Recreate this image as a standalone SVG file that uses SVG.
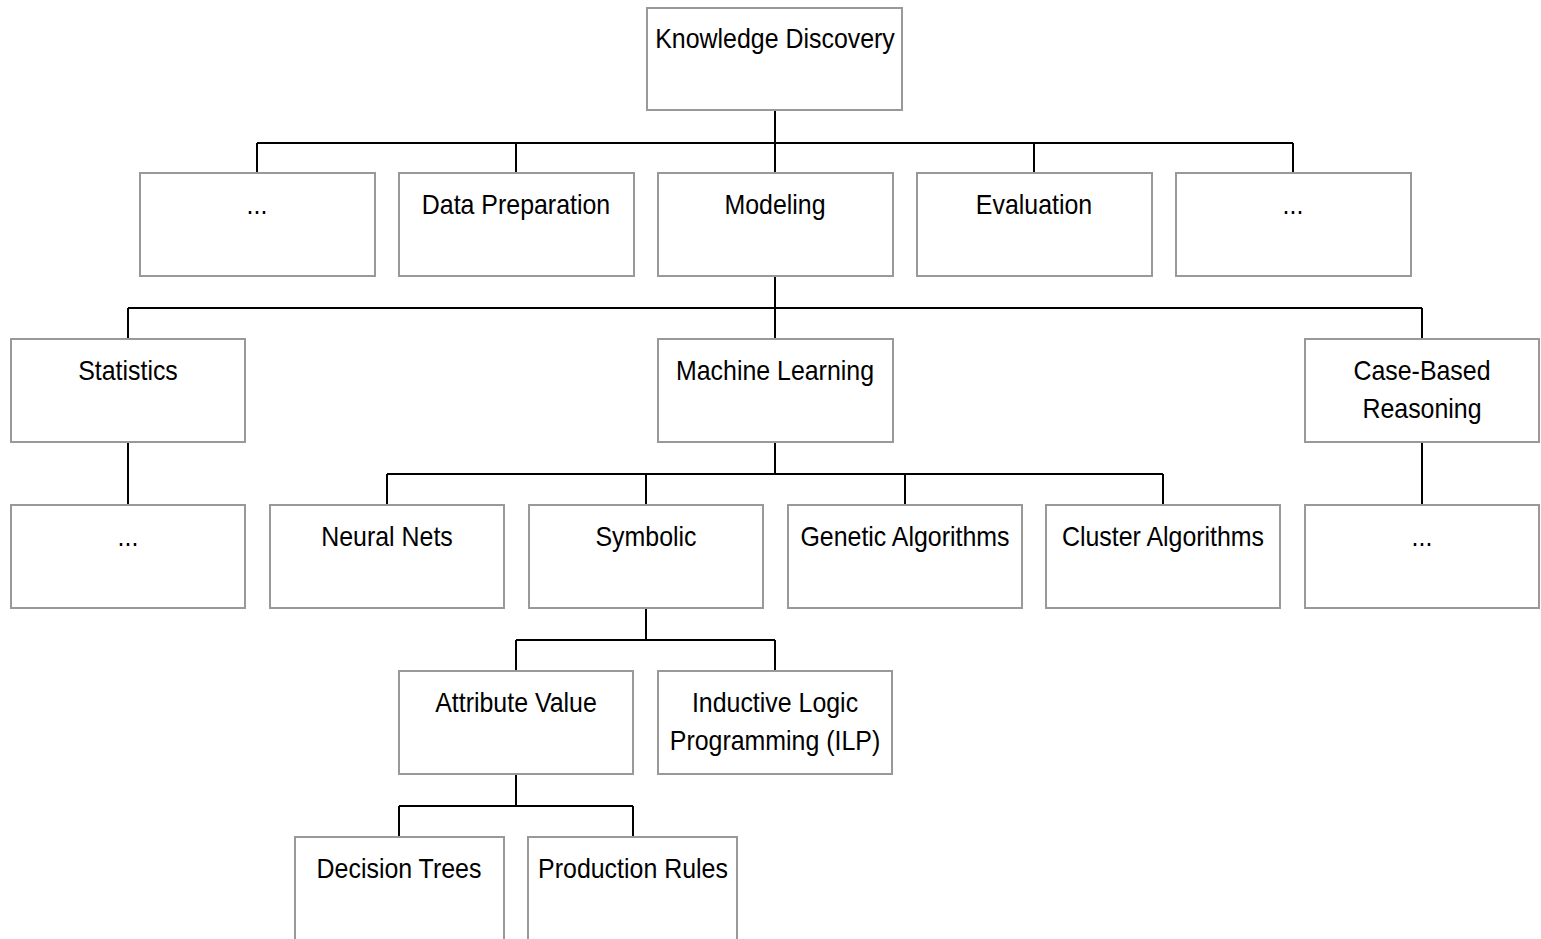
<svg xmlns="http://www.w3.org/2000/svg" width="1541" height="939" viewBox="0 0 1541 939">
  <style>
    .box { fill: #ffffff; stroke: #999999; stroke-width: 2; }
    .lbl { font-family: "Liberation Sans", Arial, sans-serif; font-size: 28px; fill: #000000; text-anchor: middle;
           transform-box: fill-box; transform-origin: center; transform: scaleX(0.89); }
    .wire { fill: none; stroke: #000000; stroke-width: 2; }
  </style>

  <!-- connectors: parent stem, horizontal bus, child drops -->
  <g id="connectors" class="wire">
    <path d="M775 110 V173 M257 143 H1293 M257 143 V173 M516 143 V173 M1034 143 V173 M1293 143 V173"/>
    <path d="M775 276 V339 M128 308 H1422 M128 308 V339 M1422 308 V339"/>
    <path d="M128 442 V505 M1422 442 V505"/>
    <path d="M775 442 V474 M387 474 H1163 M387 474 V505 M646 474 V505 M905 474 V505 M1163 474 V505"/>
    <path d="M646 608 V640 M516 640 H775 M516 640 V671 M775 640 V671"/>
    <path d="M516 774 V806 M399 806 H633 M399 806 V837 M633 806 V837"/>
  </g>

  <g id="knowledge-discovery">
    <rect class="box" x="647" y="8" width="255" height="102"/>
    <text class="lbl" x="775" y="48">Knowledge Discovery</text>
  </g>

  <g id="phase-left">
    <rect class="box" x="140" y="173" width="235" height="103"/>
    <text class="lbl" x="257" y="214">...</text>
  </g>
  <g id="data-preparation">
    <rect class="box" x="399" y="173" width="235" height="103"/>
    <text class="lbl" x="516" y="214">Data Preparation</text>
  </g>
  <g id="modeling">
    <rect class="box" x="658" y="173" width="235" height="103"/>
    <text class="lbl" x="775" y="214">Modeling</text>
  </g>
  <g id="evaluation">
    <rect class="box" x="917" y="173" width="235" height="103"/>
    <text class="lbl" x="1034" y="214">Evaluation</text>
  </g>
  <g id="phase-right">
    <rect class="box" x="1176" y="173" width="235" height="103"/>
    <text class="lbl" x="1293" y="214">...</text>
  </g>

  <g id="statistics">
    <rect class="box" x="11" y="339" width="234" height="103"/>
    <text class="lbl" x="128" y="380">Statistics</text>
  </g>
  <g id="machine-learning">
    <rect class="box" x="658" y="339" width="235" height="103"/>
    <text class="lbl" x="775" y="380">Machine Learning</text>
  </g>
  <g id="case-based-reasoning">
    <rect class="box" x="1305" y="339" width="234" height="103"/>
    <text class="lbl" x="1422" y="380">Case-Based</text>
    <text class="lbl" x="1422" y="418">Reasoning</text>
  </g>

  <g id="statistics-more">
    <rect class="box" x="11" y="505" width="234" height="103"/>
    <text class="lbl" x="128" y="546">...</text>
  </g>
  <g id="neural-nets">
    <rect class="box" x="270" y="505" width="234" height="103"/>
    <text class="lbl" x="387" y="546">Neural Nets</text>
  </g>
  <g id="symbolic">
    <rect class="box" x="529" y="505" width="234" height="103"/>
    <text class="lbl" x="646" y="546">Symbolic</text>
  </g>
  <g id="genetic-algorithms">
    <rect class="box" x="788" y="505" width="234" height="103"/>
    <text class="lbl" x="905" y="546">Genetic Algorithms</text>
  </g>
  <g id="cluster-algorithms">
    <rect class="box" x="1046" y="505" width="234" height="103"/>
    <text class="lbl" x="1163" y="546">Cluster Algorithms</text>
  </g>
  <g id="cbr-more">
    <rect class="box" x="1305" y="505" width="234" height="103"/>
    <text class="lbl" x="1422" y="546">...</text>
  </g>

  <g id="attribute-value">
    <rect class="box" x="399" y="671" width="234" height="103"/>
    <text class="lbl" x="516" y="712">Attribute Value</text>
  </g>
  <g id="inductive-logic-programming">
    <rect class="box" x="658" y="671" width="234" height="103"/>
    <text class="lbl" x="775" y="712">Inductive Logic</text>
    <text class="lbl" x="775" y="750">Programming (ILP)</text>
  </g>

  <g id="decision-trees">
    <rect class="box" x="295" y="837" width="209" height="120"/>
    <text class="lbl" x="399" y="878">Decision Trees</text>
  </g>
  <g id="production-rules">
    <rect class="box" x="528" y="837" width="209" height="120"/>
    <text class="lbl" x="633" y="878">Production Rules</text>
  </g>
</svg>
